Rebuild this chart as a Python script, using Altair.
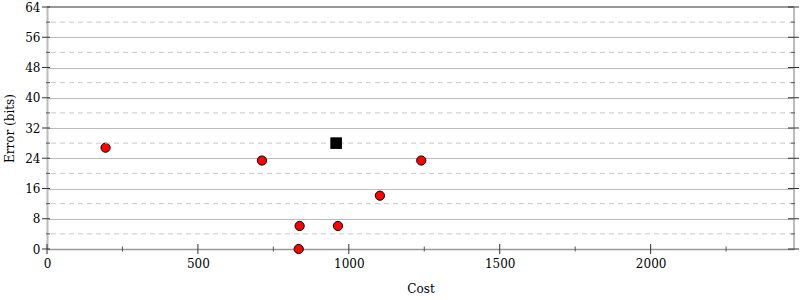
import altair as alt
import pandas as pd

# data
cost = [194, 712, 837, 834, 964, 1103, 1240]
error = [26.8, 23.4, 6.1, 0.0, 6.1, 14.1, 23.4]
best_cost = [958]
best_error = [28.0]

x_major = [0, 500, 1000, 1500, 2000]
x_minor = [250, 750, 1250, 1750, 2250]
y_major = [0, 8, 16, 24, 32, 40, 48, 56, 64]
y_minor = [4, 12, 20, 28, 36, 44, 52, 60]

X_MAX = 2475
W, H = 747, 242
FONT = "'DejaVu Serif', 'Liberation Serif', serif"

pts = pd.DataFrame({"cost": cost, "error": error})
best = pd.DataFrame({"cost": best_cost, "error": best_error})
xmaj = pd.DataFrame({"cost": x_major})
xmin = pd.DataFrame({"cost": x_minor})
ymaj = pd.DataFrame({"error": y_major})
ymin = pd.DataFrame({"error": y_minor})

xs = alt.Scale(domain=[0, X_MAX], nice=False, zero=False)
ys = alt.Scale(domain=[0, 64], nice=False)

common = dict(labelFont=FONT, labelFontSize=12, titleFont=FONT, titleFontSize=12,
              titleFontWeight="normal", labelColor="#000000", titleColor="#000000")
x_axis = alt.Axis(values=x_major, format="d", ticks=False, grid=False, domainColor="#999999",
                  domainWidth=1.5, labelPadding=9, titlePadding=14, labelOverlap=False,
                  labelFlush=False, **common)
y_axis = alt.Axis(values=y_major, format="d", ticks=False, grid=True, gridColor="#bbbbbb",
                  gridWidth=1, domainColor="#bbbbbb", domainWidth=2, labelPadding=7,
                  titlePadding=8, labelOverlap=False, labelFlush=False, **common)

xq = alt.X("cost:Q", scale=xs, title="Cost", axis=x_axis)
yq = alt.Y("error:Q", scale=ys, title="Error (bits)", axis=y_axis)

points = alt.Chart(pts).mark_point(shape="circle", filled=True, fill="#ff0000", stroke="#000000",
                                   strokeWidth=1, opacity=1, size=85).encode(x=xq, y=yq)

minor_grid = alt.Chart(ymin).mark_rule(color="#c8c8c8", strokeDash=[5, 4], strokeWidth=1).encode(y=yq)

top_border = alt.Chart(ymaj).mark_rule(color="#999999", strokeWidth=1.5).encode(
    x=alt.value(0), x2=alt.value(W), y=alt.value(0))
right_border = alt.Chart(ymaj).mark_rule(color="#bbbbbb", strokeWidth=2).encode(
    x=alt.value(W), y=alt.value(0), y2=alt.value(H))

xt_major = alt.Chart(xmaj).mark_rule(color="#333", strokeWidth=1).encode(
    x=xq, y=alt.value(H - 5), y2=alt.value(H + 5))
xt_minor = alt.Chart(xmin).mark_rule(color="#555", strokeWidth=1).encode(
    x=xq, y=alt.value(H - 2.5), y2=alt.value(H + 2.5))
yl_major = alt.Chart(ymaj).mark_rule(color="#333", strokeWidth=1).encode(
    y=yq, x=alt.value(-5), x2=alt.value(3))
yl_minor = alt.Chart(ymin).mark_rule(color="#555", strokeWidth=1).encode(
    y=yq, x=alt.value(-1), x2=alt.value(3))
yr_major = alt.Chart(ymaj).mark_rule(color="#333", strokeWidth=1).encode(
    y=yq, x=alt.value(W - 6), x2=alt.value(W + 5))
yr_minor = alt.Chart(ymin).mark_rule(color="#555", strokeWidth=1).encode(
    y=yq, x=alt.value(W - 3), x2=alt.value(W + 1))

best_pt = alt.Chart(best).mark_point(shape="square", filled=True, fill="#000000", stroke="#000000",
                                     strokeWidth=0, opacity=1, size=135).encode(x=xq, y=yq)

chart = alt.layer(
    points, minor_grid, top_border, right_border,
    xt_major, xt_minor, yl_major, yl_minor, yr_major, yr_minor, best_pt
).properties(
    width=W, height=H,
    autosize=alt.AutoSizeParams(type="none"),
    padding={"left": 47, "top": 7, "right": 6, "bottom": 51},
).configure_view(stroke=None).configure(background="white", font=FONT).configure_axis(**common)

chart.save("out.html", embed_options={"renderer": "svg", "actions": False})
